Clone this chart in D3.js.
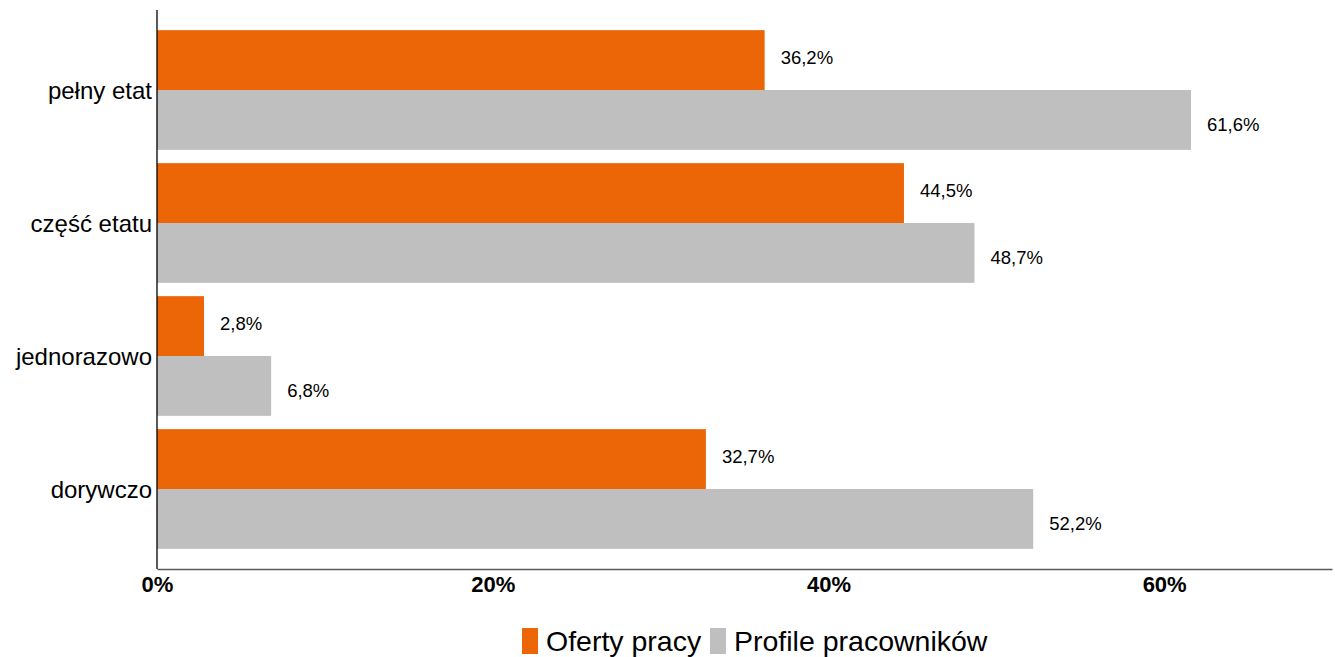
<!DOCTYPE html>
<html>
<head>
<meta charset="utf-8">
<script src="https://cdn.jsdelivr.net/npm/d3@7"></script>
<style>
  body { margin: 0; background: #fff; }
  svg { display: block; font-family: "Liberation Sans", Arial, sans-serif; }
</style>
</head>
<body>
<svg id="chart" width="1335" height="657"></svg>
<script>
const categories = ["pełny etat", "część etatu", "jednorazowo", "dorywczo"];
const seriesNames = ["Oferty pracy", "Profile pracowników"];
const ofertyPracy = [36.2, 44.5, 2.8, 32.7];
const profilePracownikow = [61.6, 48.7, 6.8, 52.2];
const xTicks = [0, 20, 40, 60];
const colors = ["#ec6608", "#bfbfbf"];

const rows = categories.map((c, i) => ({
  cat: c,
  values: [ofertyPracy[i], profilePracownikow[i]]
}));

const svg = d3.select("#chart");

const x = d3.scaleLinear().domain([0, 70]).range([157, 1332]);
const y = d3.scaleBand().domain(categories).range([23.5, 555.5])
  .paddingInner(0.1).paddingOuter(0.05);
const ySub = d3.scaleBand().domain(seriesNames).range([0, y.bandwidth()]);

const fmt = v => d3.format(".1f")(v).replace(".", ",") + "%";
// labels sit a bit off the bar centre, as in the original
const labelShift = [-3, 5];

// bars
const groups = svg.append("g").selectAll("g")
  .data(rows).join("g")
  .attr("transform", d => `translate(0,${y(d.cat)})`);

groups.selectAll("rect")
  .data(d => d.values.map((v, i) => ({ v, s: seriesNames[i], i })))
  .join("rect")
  .attr("x", x(0))
  .attr("y", d => ySub(d.s))
  .attr("width", d => x(d.v) - x(0))
  .attr("height", ySub.bandwidth())
  .attr("fill", d => colors[d.i]);

groups.selectAll("text")
  .data(d => d.values.map((v, i) => ({ v, s: seriesNames[i], i })))
  .join("text")
  .attr("x", d => x(d.v) + 16)
  .attr("y", d => ySub(d.s) + ySub.bandwidth() / 2 + labelShift[d.i])
  .attr("dy", "0.35em")
  .attr("font-size", 18.5)
  .attr("fill", "#000")
  .text(d => fmt(d.v));

// x axis
const xAxis = svg.append("g")
  .attr("transform", "translate(0,569)")
  .call(d3.axisBottom(x).tickValues(xTicks).tickSize(0).tickFormat(d => d + "%"));
xAxis.select(".domain").attr("stroke", "#595959").attr("stroke-width", 1.3);
xAxis.selectAll("text")
  .attr("dy", 0)
  .attr("y", 23)
  .attr("font-size", 22)
  .attr("font-weight", "bold")
  .attr("font-family", "Liberation Sans, Arial, sans-serif")
  .attr("fill", "#000");

// y axis
const yAxis = svg.append("g")
  .attr("transform", `translate(${x(0)},0)`)
  .call(d3.axisLeft(y).tickSize(0).tickPadding(5));
yAxis.select(".domain").attr("d", "M0,10V569").attr("stroke", "#000").attr("stroke-width", 1.3);
yAxis.selectAll("text")
  .attr("dy", "0.37em")
  .attr("font-size", 24)
  .attr("font-family", "Liberation Sans, Arial, sans-serif")
  .attr("fill", "#000");

// legend
const legend = svg.append("g").attr("transform", "translate(522,628)");
const legendX = [0, 188];
seriesNames.forEach((s, i) => {
  const g = legend.append("g").attr("transform", `translate(${legendX[i]},0)`);
  g.append("rect").attr("width", 16).attr("height", 26).attr("fill", colors[i]);
  g.append("text").attr("x", 24).attr("y", 13).attr("dy", "0.35em")
    .attr("font-size", 28.5).attr("fill", "#000").text(s);
});
</script>
</body>
</html>
